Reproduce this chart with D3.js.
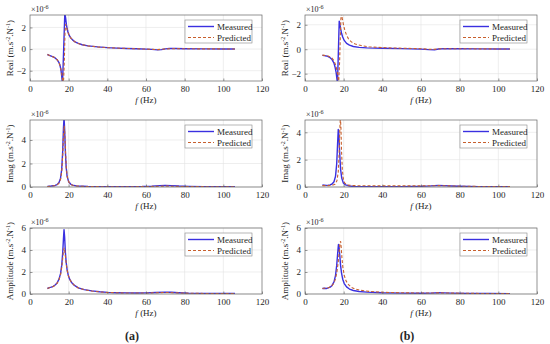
<!DOCTYPE html>
<html><head><meta charset="utf-8">
<script src="https://cdn.jsdelivr.net/npm/d3@7"></script>
<style>body{margin:0;background:#fff} svg text{font-family:"Liberation Serif","Times New Roman",serif;fill:#262626}</style>
</head><body><svg id="c" width="550" height="344"></svg>
<script>
// ---- data (values in units of 1e-6 m.s^-2.N^-1) ----
const xTicks = [0, 20, 40, 60, 80, 100, 120];
const realTicks = [-2, 0, 2];
const imagTicks = [0, 2, 4];
const ampTicks = [0, 2, 4, 6];
const seriesNames = ["Measured", "Predicted"];
const panelLetters = ["(a)", "(b)"];
const rowLabels = ["Real", "Imag", "Amplitude"];

const realMeasA = [[9,-0.5],[10,-0.58],[11,-0.65],[12,-0.72],[13,-0.82],[14,-0.98],[15,-1.25],[15.5,-1.5],[16,-1.9],[16.4,-2.5],[16.8,-3.2],[17.2,-1.2],[17.6,1.0],[18.0,3.3],[18.4,2.9],[18.8,2.3],[19.2,1.9],[19.6,1.6],[20.2,1.3],[21,1.05],[22,0.85],[23,0.7],[25,0.52],[27,0.4],[30,0.3],[35,0.2],[40,0.13],[45,0.09],[50,0.06],[55,0.03],[60,0.0],[63,-0.03],[66,-0.07],[68,-0.05],[70,0.02],[72,0.06],[75,0.05],[80,0.03],[90,0.02],[100,0.01],[106,0.01]];
const realPredA = [[9,-0.5],[10,-0.58],[11,-0.65],[12,-0.72],[13,-0.82],[14,-0.98],[15,-1.25],[15.5,-1.5],[16,-1.85],[16.5,-2.4],[17,-3.0],[17.4,-2.8],[17.8,-0.8],[18.1,1.5],[18.4,2.3],[18.8,2.1],[19.2,1.8],[19.6,1.55],[20.2,1.3],[21,1.05],[22,0.85],[23,0.7],[25,0.52],[27,0.4],[30,0.3],[35,0.2],[40,0.13],[50,0.06],[60,0.0],[66,-0.05],[70,0.02],[75,0.04],[80,0.03],[90,0.02],[106,0.01]];
const realMeasB = [[9,-0.5],[10,-0.52],[11,-0.55],[12,-0.6],[13,-0.7],[14,-0.85],[15,-1.15],[15.6,-1.5],[16.1,-1.9],[16.5,-2.4],[16.8,-2.8],[17.3,0.0],[17.7,2.3],[18.0,2.1],[18.4,1.7],[18.9,1.3],[19.5,1.0],[20.3,0.72],[21.5,0.48],[23,0.33],[25,0.22],[28,0.15],[32,0.11],[40,0.08],[50,0.05],[60,0.01],[64,-0.03],[67,-0.05],[69,0.02],[72,0.05],[80,0.04],[90,0.03],[100,0.02],[106,0.02]];
const realPredB = [[9,-0.48],[10,-0.5],[11,-0.52],[12,-0.56],[13,-0.63],[14,-0.74],[15,-0.95],[16,-1.35],[16.8,-2.0],[17.4,-2.8],[17.9,-1.0],[18.3,1.2],[18.6,2.6],[18.9,2.9],[19.3,2.5],[19.9,2.0],[20.6,1.55],[21.5,1.15],[22.5,0.85],[24,0.6],[26,0.42],[29,0.3],[33,0.2],[40,0.13],[50,0.08],[60,0.04],[66,-0.02],[70,0.04],[80,0.04],[90,0.03],[106,0.02]];

const imagMeasA = [[9,0.05],[11,0.08],[13,0.13],[14,0.2],[15,0.38],[15.8,0.75],[16.4,1.5],[16.9,3.0],[17.3,5.0],[17.6,5.9],[17.9,5.0],[18.3,3.0],[18.7,1.7],[19.2,0.9],[20,0.45],[21,0.25],[22,0.16],[24,0.1],[27,0.07],[30,0.05],[40,0.03],[50,0.03],[58,0.04],[63,0.07],[67,0.12],[70,0.14],[73,0.12],[77,0.08],[82,0.05],[90,0.03],[100,0.02],[106,0.02]];
const imagPredA = [[9,0.04],[11,0.07],[13,0.12],[14,0.18],[15,0.33],[15.8,0.65],[16.4,1.3],[16.9,2.6],[17.3,4.3],[17.7,5.2],[18.0,4.6],[18.4,2.9],[18.8,1.6],[19.3,0.85],[20,0.45],[21,0.24],[22,0.15],[24,0.09],[27,0.06],[30,0.04],[40,0.02],[60,0.03],[70,0.08],[80,0.04],[106,0.01]];
const imagMeasB = [[9,0.15],[10,0.14],[11,0.12],[12,0.13],[13,0.16],[14,0.22],[15,0.38],[15.8,0.8],[16.4,1.7],[16.9,3.3],[17.2,4.2],[17.5,3.9],[17.9,2.6],[18.4,1.3],[19,0.65],[19.8,0.3],[21,0.15],[23,0.07],[25,0.04],[30,0.03],[40,0.03],[50,0.03],[60,0.05],[65,0.08],[69,0.12],[72,0.1],[76,0.07],[80,0.05],[90,0.03],[100,0.02],[106,0.02]];
const imagPredB = [[9,0.1],[12,0.1],[14,0.12],[15.5,0.2],[16.5,0.45],[17.2,1.1],[17.7,2.6],[18.0,4.2],[18.3,5.1],[18.6,4.3],[18.9,2.6],[19.3,1.3],[19.8,0.6],[20.5,0.3],[22,0.14],[25,0.1],[30,0.09],[40,0.08],[60,0.08],[70,0.1],[80,0.06],[90,0.04],[106,0.03]];

const ampMeasA = [[9,0.5],[10,0.58],[11,0.63],[12,0.7],[13,0.82],[14,1.0],[15,1.35],[15.8,1.85],[16.4,2.6],[16.9,3.7],[17.3,5.0],[17.6,5.85],[17.9,5.2],[18.3,3.8],[18.7,2.9],[19.2,2.2],[19.8,1.7],[20.5,1.35],[21.5,1.05],[23,0.78],[25,0.55],[28,0.4],[32,0.28],[36,0.2],[40,0.15],[45,0.12],[50,0.1],[55,0.09],[60,0.1],[65,0.13],[70,0.17],[73,0.16],[77,0.12],[82,0.08],[90,0.06],[100,0.04],[106,0.04]];
const ampPredA = [[9,0.5],[10,0.57],[11,0.62],[12,0.68],[13,0.8],[14,0.97],[15,1.3],[15.8,1.75],[16.4,2.4],[16.9,3.2],[17.3,3.9],[17.7,4.2],[18.0,3.9],[18.4,3.3],[18.8,2.7],[19.3,2.1],[19.9,1.65],[20.5,1.35],[21.5,1.05],[23,0.78],[25,0.55],[28,0.4],[32,0.27],[36,0.19],[40,0.14],[50,0.09],[60,0.09],[70,0.14],[80,0.08],[90,0.05],[106,0.03]];
const ampMeasB = [[9,0.5],[10,0.52],[11,0.5],[12,0.55],[13,0.62],[14,0.78],[15,1.1],[15.8,1.7],[16.4,2.6],[16.9,3.7],[17.3,4.5],[17.6,4.3],[18,3.5],[18.4,2.6],[18.9,1.9],[19.5,1.35],[20.3,0.95],[21.5,0.65],[23,0.45],[25,0.32],[28,0.23],[32,0.17],[40,0.11],[50,0.08],[60,0.07],[65,0.08],[69,0.11],[72,0.1],[76,0.08],[85,0.05],[95,0.04],[106,0.03]];
const ampPredB = [[9,0.5],[10,0.52],[11,0.52],[12,0.56],[13,0.63],[14,0.77],[15,1.0],[15.8,1.4],[16.5,2.0],[17.2,2.9],[17.7,3.9],[18.1,4.6],[18.4,4.8],[18.7,4.3],[19.1,3.3],[19.6,2.4],[20.3,1.7],[21.2,1.2],[22.5,0.85],[24,0.6],[26,0.45],[29,0.33],[33,0.24],[40,0.16],[50,0.11],[60,0.09],[70,0.1],[80,0.07],[90,0.05],[106,0.03]];

// ---- layout ----
const colX = [[30, 262], [305, 537]];
const rowY = [[15, 81], [120, 187], [228, 294]];
const panels = [
  {r:0,c:0,label:rowLabels[0],dom:[-2.95,3.15],ticks:realTicks,meas:realMeasA,pred:realPredA},
  {r:0,c:1,label:rowLabels[0],dom:[-2.6,2.8],ticks:realTicks,meas:realMeasB,pred:realPredB},
  {r:1,c:0,label:rowLabels[1],dom:[0,5.7],ticks:imagTicks,meas:imagMeasA,pred:imagPredA},
  {r:1,c:1,label:rowLabels[1],dom:[0,4.9],ticks:imagTicks,meas:imagMeasB,pred:imagPredB},
  {r:2,c:0,label:rowLabels[2],dom:[0,6],ticks:ampTicks,meas:ampMeasA,pred:ampPredA},
  {r:2,c:1,label:rowLabels[2],dom:[0,6],ticks:ampTicks,meas:ampMeasB,pred:ampPredB}
];
const measColor = "#3a30e0", predColor = "#c8602e";
const svg = d3.select("#c");
const fmt = d3.format("d");

panels.forEach((p, i) => {
  const [x0, x1] = colX[p.c], [y0, y1] = rowY[p.r];
  const x = d3.scaleLinear().domain([0, 120]).range([x0, x1]);
  const y = d3.scaleLinear().domain(p.dom).range([y1, y0]);
  const g = svg.append("g");
  g.append("rect").attr("x", x0).attr("y", y0).attr("width", x1 - x0).attr("height", y1 - y0).attr("fill", "#fff");
  // grid
  g.selectAll(".gx").data(xTicks.slice(1, -1)).join("line")
    .attr("x1", d => x(d)).attr("x2", d => x(d)).attr("y1", y0).attr("y2", y1)
    .attr("stroke", "#e3e3e3").attr("stroke-width", 0.6);
  g.selectAll(".gy").data(p.ticks).join("line")
    .attr("x1", x0).attr("x2", x1).attr("y1", d => y(d)).attr("y2", d => y(d))
    .attr("stroke", "#e3e3e3").attr("stroke-width", 0.6);
  // clip
  const cid = "clip" + i;
  svg.append("clipPath").attr("id", cid).append("rect")
    .attr("x", x0).attr("y", y0).attr("width", x1 - x0).attr("height", y1 - y0);
  const line = d3.line().x(d => x(d[0])).y(d => y(d[1]));
  g.append("path").datum(p.meas).attr("clip-path", `url(#${cid})`).attr("d", line)
    .attr("fill", "none").attr("stroke", measColor).attr("stroke-width", 1.4).attr("stroke-linejoin", "round");
  g.append("path").datum(p.pred).attr("clip-path", `url(#${cid})`).attr("d", line)
    .attr("fill", "none").attr("stroke", predColor).attr("stroke-width", 1.1).attr("stroke-dasharray", "3,2");
  // axes
  const xa = g.append("g").attr("transform", `translate(0,${y1})`)
    .call(d3.axisBottom(x).tickValues(xTicks).tickFormat(fmt).tickSize(-2.5).tickPadding(5));
  const ya = g.append("g").attr("transform", `translate(${x0},0)`)
    .call(d3.axisLeft(y).tickValues(p.ticks).tickFormat(fmt).tickSize(-2.5).tickPadding(4));
  [xa, ya].forEach(a => {
    a.attr("font-family", null);
    a.select(".domain").remove();
    a.selectAll("line").attr("stroke", "#555").attr("stroke-width", 0.6);
    a.selectAll("text").attr("font-size", 9).attr("fill", "#262626");
  });
  g.append("rect").attr("x", x0).attr("y", y0).attr("width", x1 - x0).attr("height", y1 - y0)
    .attr("fill", "none").attr("stroke", "#666").attr("stroke-width", 0.7);
  // x10^-6
  const ex = g.append("text").attr("x", x0 + 1).attr("y", y0 - 3).attr("font-size", 8);
  ex.append("tspan").text("\u00d710");
  ex.append("tspan").attr("dy", -3).attr("font-size", 6).text("-6");
  // x label
  const xl = g.append("text").attr("x", (x0 + x1) / 2).attr("y", y1 + 22).attr("text-anchor", "middle").attr("font-size", 9);
  xl.append("tspan").attr("font-style", "italic").text("f");
  xl.append("tspan").text("  (Hz)");
  // y label
  const yl = g.append("text").attr("transform", `translate(${x0 - 17},${(y0 + y1) / 2}) rotate(-90)`)
    .attr("text-anchor", "middle").attr("font-size", 9);
  yl.append("tspan").text(p.label + (p.r < 2 ? "  " : " ") + "(m.s");
  yl.append("tspan").attr("dy", -3).attr("font-size", 6).text("-2");
  yl.append("tspan").attr("dy", 3).text(".N");
  yl.append("tspan").attr("dy", -3).attr("font-size", 6).text("-1");
  yl.append("tspan").attr("dy", 3).text(")");
  // legend
  const lx = x1 - 77, ly = y0 + 5;
  const lg = g.append("g");
  lg.append("rect").attr("x", lx).attr("y", ly).attr("width", 67).attr("height", 23)
    .attr("fill", "#fff").attr("stroke", "#888").attr("stroke-width", 0.6);
  seriesNames.forEach((n, k) => {
    const yy = ly + 6.5 + k * 11;
    lg.append("line").attr("x1", lx + 3).attr("x2", lx + 29).attr("y1", yy).attr("y2", yy)
      .attr("stroke", k === 0 ? measColor : predColor).attr("stroke-width", k === 0 ? 1.4 : 1.1)
      .attr("stroke-dasharray", k === 0 ? null : "3,2");
    lg.append("text").attr("x", lx + 32).attr("y", yy + 3).attr("font-size", 9).text(n);
  });
});
// panel letters
[132, 407].forEach((cx, k) => {
  svg.append("text").attr("x", cx).attr("y", 340).attr("text-anchor", "middle")
    .attr("font-size", 12).attr("font-weight", "bold").text(panelLetters[k]);
});
</script></body></html>
